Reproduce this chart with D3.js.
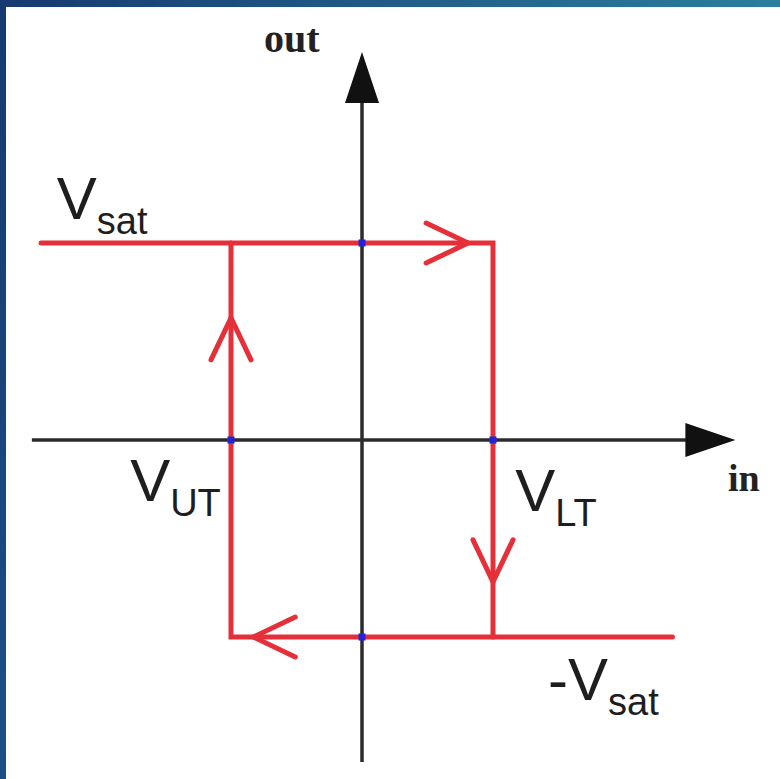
<!DOCTYPE html>
<html lang="en">
  <head>
    <meta charset="UTF-8" />
    <title>Hysteresis</title>
    <style>
      body { margin: 0; background: #fff; }
    </style>
  </head>
  <body>
    <svg id="container" width="780" height="779"></svg>
  </body>
  <script src="https://cdn.jsdelivr.net/npm/d3@7"></script>
  <script>
    // threshold voltages (in units of V_LT) and saturation level
    const thresholds = [-1, 1];        // V_UT, V_LT
    const satLevels = [-1, 1];         // -V_sat, V_sat
    const inExtent = [-2.52, 2.85];    // in axis from left end to arrow tip
    const outExtent = [-1.635, 1.97];  // out axis from bottom to arrow tip
    const topRun = [-2.45, 1];         // V_sat line, left end to V_LT
    const bottomRun = [-1, 2.37];      // -V_sat line, V_UT to right end
    // arrows: [x, y, direction]
    const arrows = [[0.81, 1, "right"], [-1, 0.62, "up"], [1, -0.72, "down"], [-0.83, -1, "left"]];
    const dots = [[0, 1], [-1, 0], [1, 0], [0, -1]];
    const labels = [
      { main: "V", sub: "sat", x: -2.33, y: 1.12 },
      { main: "V", sub: "UT", x: -1.77, y: -0.31 },
      { main: "V", sub: "LT", x: 1.17, y: -0.36 },
      { main: "-V", sub: "sat", x: 1.42, y: -1.32 }
    ];

    let svg = d3.select("#container");
    let x = d3.scaleLinear().domain([-1, 1]).range([231, 493]);
    let y = d3.scaleLinear().domain([-1, 1]).range([637, 243]);

    // frame
    let defs = svg.append("defs");
    let grad = defs.append("linearGradient").attr("id", "topband");
    grad.append("stop").attr("offset", "0%").attr("stop-color", "#163a70");
    grad.append("stop").attr("offset", "100%").attr("stop-color", "#2b7f9d");
    let grad2 = defs.append("linearGradient").attr("id", "leftband")
      .attr("x1", 0).attr("y1", 0).attr("x2", 0).attr("y2", 1);
    grad2.append("stop").attr("offset", "0%").attr("stop-color", "#163a70");
    grad2.append("stop").attr("offset", "100%").attr("stop-color", "#1c4f86");
    svg.append("rect").attr("width", 780).attr("height", 779).attr("fill", "#fff");
    svg.append("rect").attr("width", 780).attr("height", 7).attr("fill", "url(#topband)");
    svg.append("rect").attr("width", 6).attr("height", 779).attr("fill", "url(#leftband)");

    // axes
    let axisColor = "#2b2b2b";
    svg.append("line")
      .attr("x1", x(inExtent[0])).attr("x2", x(inExtent[1]) - 40)
      .attr("y1", y(0)).attr("y2", y(0))
      .attr("stroke", axisColor).attr("stroke-width", 3.5);
    svg.append("line")
      .attr("x1", x(0)).attr("x2", x(0))
      .attr("y1", y(outExtent[0])).attr("y2", y(outExtent[1]) + 40)
      .attr("stroke", axisColor).attr("stroke-width", 3.5);
    let xt = x(inExtent[1]), yt = y(outExtent[1]);
    svg.append("path")
      .attr("d", `M${xt},${y(0)} L${xt - 50},${y(0) - 17} L${xt - 50},${y(0) + 17} Z`)
      .attr("fill", "#111");
    svg.append("path")
      .attr("d", `M${x(0)},${yt} L${x(0) - 17},${yt + 51} L${x(0) + 17},${yt + 51} Z`)
      .attr("fill", "#111");

    svg.append("text").text("out")
      .attr("x", 264).attr("y", 52)
      .style("font-family", "'Liberation Serif', serif").style("font-weight", "bold")
      .style("font-size", "40px").attr("fill", "#222");
    svg.append("text").text("in")
      .attr("x", 728).attr("y", 491)
      .style("font-family", "'Liberation Serif', serif").style("font-weight", "bold")
      .style("font-size", "38px").attr("fill", "#222");

    // hysteresis loop
    let red = "#e5303a";
    let line = d3.line().x((d) => x(d[0])).y((d) => y(d[1]));
    let loop = svg.append("g").attr("fill", "none").attr("stroke", red)
      .attr("stroke-width", 5).attr("stroke-linecap", "round").attr("stroke-linejoin", "miter");
    loop.append("path").attr("d", line([[topRun[0], satLevels[1]], [topRun[1], satLevels[1]], [thresholds[1], satLevels[0]]]));
    loop.append("path").attr("d", line([[bottomRun[1], satLevels[0]], [bottomRun[0], satLevels[0]], [thresholds[0], satLevels[1]]]));

    // chevrons
    let back = 42, half = 20;
    let chevron = { right: [-1, 0], left: [1, 0], up: [0, 1], down: [0, -1] };
    loop.selectAll("path.arrow").data(arrows).enter().append("path")
      .attr("class", "arrow")
      .attr("d", (d) => {
        let px = x(d[0]), py = y(d[1]);
        let v = chevron[d[2]];
        // v is direction from tip back, in screen coords (y down)
        let bx = v[0] * back, by = v[1] * back;
        let nx = v[1] * half, ny = v[0] * half;
        return `M${px + bx + nx},${py + by + ny} L${px},${py} L${px + bx - nx},${py + by - ny}`;
      });

    // crossing dots
    svg.selectAll("rect.dot").data(dots).enter().append("rect")
      .attr("class", "dot")
      .attr("x", (d) => x(d[0]) - 3.5).attr("y", (d) => y(d[1]) - 3.5)
      .attr("width", 7).attr("height", 7).attr("fill", "#2323d8");

    // labels
    let lab = svg.selectAll("text.lab").data(labels).enter().append("text")
      .attr("class", "lab")
      .attr("x", (d) => x(d.x)).attr("y", (d) => y(d.y))
      .style("font-family", "'Liberation Sans', Arial, sans-serif")
      .attr("fill", "#1e1e1e");
    lab.append("tspan").text((d) => d.main).style("font-size", "60px");
    lab.append("tspan").text((d) => d.sub).style("font-size", "38px").attr("dy", 15);
  </script>
</html>
